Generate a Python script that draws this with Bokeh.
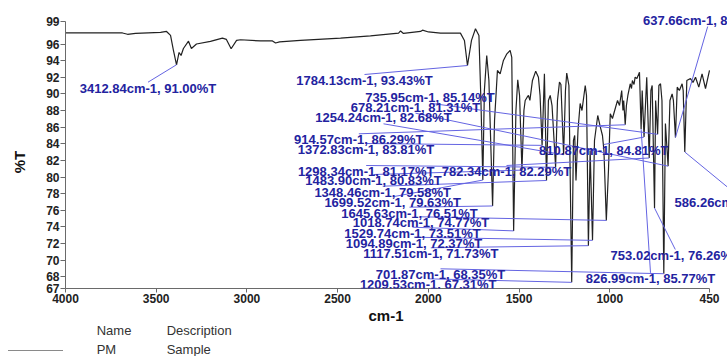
import numpy as np
from bokeh.plotting import figure
from bokeh.layouts import column, row
from bokeh.models import Range1d, FixedTicker, LabelSet, ColumnDataSource, Arrow, Div
from bokeh.core.properties import value
from bokeh.embed import file_html
from bokeh.resources import INLINE

# ---------------- data ----------------
wavenumber = [
    4000, 3807, 3686, 3658, 3614, 3476, 3443, 3421, 3405, 3388,
    3374, 3363, 3350, 3322, 3306, 3278, 3201, 3135, 3113, 3087,
    3057, 3035, 2925, 2859, 2842, 2820, 2705, 2484, 2319, 2164,
    2153, 2137, 2043, 2032, 1999, 1933, 1823, 1801, 1784.13, 1762,
    1740, 1721, 1710, 1699.52, 1691, 1678, 1666, 1645.63, 1635, 1619,
    1604, 1586, 1567, 1549, 1540, 1529.74, 1517, 1507, 1497, 1483.90,
    1473, 1466, 1456, 1448, 1440, 1426, 1408, 1393, 1384, 1372.83,
    1360, 1348.46, 1338, 1328, 1318, 1298.34, 1288, 1277, 1269, 1254.24,
    1244, 1237, 1225, 1209.53, 1200, 1193, 1186, 1175, 1163, 1153,
    1135, 1128, 1117.51, 1108, 1094.89, 1084, 1066, 1054, 1040, 1032,
    1018.74, 1007, 997, 985, 970, 957, 946, 934, 927, 923,
    914.57, 908, 900, 887, 880, 875, 866, 860, 850, 836,
    826.99, 821, 810.87, 796, 782.34, 773, 766, 753.02, 747, 735.95,
    729, 720, 712, 701.87, 693, 678.21, 668, 656, 649, 637.66,
    628, 616, 601, 595, 586.26, 575, 555, 541, 527, 509,
    491, 472, 450,
]
transmittance = [
    97.37, 97.37, 97.35, 97.19, 97.31, 97.43, 97.53, 97.05, 95.24, 93.52,
    95.00, 94.64, 95.48, 96.36, 95.48, 96.02, 96.33, 96.72, 96.57, 95.45,
    96.45, 96.53, 96.39, 96.39, 96.14, 96.27, 96.45, 96.72, 96.99, 97.33,
    97.59, 97.29, 97.53, 97.69, 97.47, 97.33, 97.33, 96.45, 93.43, 96.45,
    97.86, 97.05, 89.22, 79.63, 90.42, 94.64, 91.63, 76.51, 86.81, 92.83,
    92.43, 94.04, 94.84, 95.24, 94.40, 73.51, 88.01, 91.71, 89.82, 80.83,
    88.01, 89.22, 89.58, 89.82, 89.22, 91.63, 92.75, 92.02, 89.82, 83.81,
    92.43, 79.58, 89.22, 89.82, 88.61, 81.17, 89.22, 91.42, 91.14, 82.68,
    90.42, 92.51, 91.02, 67.31, 84.40, 85.00, 79.58, 85.60, 88.86, 88.01,
    91.02, 89.82, 71.73, 83.19, 72.37, 84.40, 87.41, 86.21, 85.00, 83.19,
    74.77, 80.78, 87.61, 87.05, 88.22, 89.22, 88.61, 90.42, 88.01, 89.22,
    86.29, 88.61, 89.82, 91.23, 90.66, 91.63, 91.14, 92.02, 91.87, 92.63,
    85.77, 90.42, 84.81, 92.02, 82.29, 90.42, 91.02, 76.26, 89.22, 85.14,
    91.02, 91.23, 89.22, 68.35, 86.45, 81.31, 89.22, 90.02, 89.22, 84.76,
    90.82, 90.42, 91.23, 90.42, 83.00, 91.63, 91.87, 91.39, 92.02, 90.82,
    92.43, 90.66, 92.83,
]

peak_wn = [3412.84, 1784.13, 735.95, 678.21, 1254.24, 914.57, 1372.83, 1298.34,
           782.34, 1483.90, 1348.46, 1699.52, 1645.63, 1018.74, 1529.74, 1094.89,
           1117.51, 701.87, 1209.53, 810.87, 637.66, 586.26, 753.02, 826.99]
peak_T = [91.00, 93.43, 85.14, 81.31, 82.68, 86.29, 83.81, 81.17,
          82.29, 80.83, 79.58, 79.63, 76.51, 74.77, 73.51, 72.37,
          71.73, 68.35, 67.31, 84.81, 84.76, 83.01, 76.26, 85.77]

x_ticks = [4000, 3500, 3000, 2500, 2000, 1500, 1000, 450]
y_ticks_inner = [68, 70, 72, 74, 76, 78, 80, 82, 84, 86, 88, 90, 92, 94, 96]
y_end_labels = ["67", "99"]
x_title = "cm-1"
y_title = "%T"

legend_header = ["Name", "Description"]
legend_row = ["PM", "Sample"]

# ---------------- layout (pixels) ----------------
W, H = 727, 356
LEFT_W = 30                       # strip that holds the y title
H_MAIN = 308                      # plot height; text strip below
FL, FR, FT, FB = 65, 709, 21, 288  # axis extents in the picture
X0, X1 = 4000, 450
Y0, Y1 = 66.57, 98.73
X_END = X1 + (X1 - X0) * (W - FR) / (FR - FL)
Y_TOP = Y1 + (Y1 - Y0) * FT / (FB - FT)

# label text centres, in pixels of the picture
label_cx = [147.5, 364, 429.5, 415, 383, 358.3, 365.5, 365.7, 506, 373, 382.2, 392.2,
            409, 420.5, 412, 413.5, 430.3, 440, 427.7, 603.3, 707.2, 738.8, 674.8, 650]
label_cy = [87.7, 80, 96.7, 106.7, 117.3, 139.3, 149, 171, 171, 180, 191.7, 202.3,
            212.7, 222.3, 232.7, 242.7, 253.3, 274.3, 284.3, 150, 20, 202.3, 255, 278.3]


def px_x(px):
    return X0 + (px - FL) * (X1 - X0) / (FR - FL)


def px_y(py):
    return Y1 - (py - FT) * (Y1 - Y0) / (FB - FT)


def y_px(y):
    return FT + (Y1 - y) * (FB - FT) / (Y1 - Y0)


FONT = "Liberation Sans"
BLUE_TXT = "#2323a0"
BLUE_LINE = "#6464e2"
AXIS_C = "#6a6a6a"

p = figure(width=W - LEFT_W, height=H_MAIN, x_range=Range1d(X0, X_END), y_range=Range1d(Y0, Y_TOP),
           output_backend="svg", toolbar_location=None,
           min_border_left=FL - LEFT_W, min_border_right=0,
           min_border_top=0, min_border_bottom=H_MAIN - FB, margin=0)
p.outline_line_color = None
p.grid.visible = False
p.background_fill_color = "white"
p.border_fill_color = "white"

# axes
p.xaxis.ticker = FixedTicker(ticks=x_ticks)
p.xaxis.bounds = (X1, X0)
p.yaxis.ticker = FixedTicker(ticks=[Y0] + y_ticks_inner + [Y1])
p.yaxis.bounds = (Y0, Y1)
p.yaxis.major_label_overrides = {Y0: y_end_labels[0], Y1: y_end_labels[1]}
for ax in (p.xaxis[0], p.yaxis[0]):
    ax.axis_line_color = AXIS_C
    ax.major_tick_line_color = AXIS_C
    ax.minor_tick_line_color = None
    ax.major_tick_in = 0
    ax.major_label_text_font = FONT
    ax.major_label_text_font_size = "12px"
    ax.major_label_text_font_style = "bold"
    ax.major_label_text_color = "#222222"
p.yaxis.major_tick_out = 5
p.yaxis.major_label_standoff = 1
p.xaxis.major_tick_out = 4
p.xaxis.major_label_standoff = 1

# spectrum
p.line(wavenumber, transmittance, line_color="#222222", line_width=1.2)

# leader lines: from the label to the marked peak
wn_arr = np.array(wavenumber, dtype=float)
t_arr = np.array(transmittance, dtype=float)
x0s, y0s, x1s, y1s = [], [], [], []
for w, t, cx, cy in zip(peak_wn, peak_T, label_cx, label_cy):
    hit = np.where(np.isclose(wn_arr, w))[0]
    if len(hit):
        ex, ey = w, t
    else:
        m = np.abs(wn_arr - w) <= 40
        k = np.argmin(np.where(m, t_arr, np.inf))
        ex, ey = wn_arr[k], t_arr[k]
    peak_py = y_px(ey)
    sy = cy + 6 if peak_py > cy + 12 else cy - 6
    x0s.append(px_x(cx)); y0s.append(px_y(sy)); x1s.append(ex); y1s.append(ey)

lead_src = ColumnDataSource(dict(x0=x0s, y0=y0s, x1=x1s, y1=y1s))
p.add_layout(Arrow(end=None, x_start="x0", y_start="y0", x_end="x1", y_end="y1",
                   source=lead_src, line_color=BLUE_LINE, line_width=1))

texts = [f"{w:.2f}cm-1, {t:.2f}%T" for w, t in zip(peak_wn, peak_T)]
lab_src = ColumnDataSource(dict(x=[px_x(c) for c in label_cx], y=[px_y(c) for c in label_cy], text=texts))
p.add_layout(LabelSet(x="x", y="y", text="text", source=lab_src,
                      text_align="center", text_baseline="middle",
                      text_font=value(FONT), text_font_size=value("13px"),
                      text_font_style="bold", text_color=BLUE_TXT))

# ---------------- texts outside the plot area (HTML strips) ----------------
def span(txt, left, top, css, center_x=False):
    tx = "-50%" if center_x else "0"
    return (f'<span style="position:absolute;left:{left}px;top:{top}px;'
            f'transform:translate({tx},-50%);white-space:nowrap;{css}">{txt}</span>')


title_css = f"font-family:'{FONT}';font-size:15px;font-weight:bold;color:#111111;line-height:15px;"
leg_css = f"font-family:'{FONT}';font-size:13px;color:#333333;line-height:13px;"

left_html = (f'<div style="position:relative;width:{LEFT_W}px;height:{H_MAIN}px;overflow:visible;">'
             f'<span style="position:absolute;left:18.5px;top:162px;'
             f'transform:translate(-50%,-50%) rotate(-90deg);white-space:nowrap;{title_css}">{y_title}</span>'
             f'</div>')
left_div = Div(text=left_html, width=LEFT_W, height=H_MAIN, margin=0)

top0 = H_MAIN
bottom_html = (f'<div style="position:relative;width:{W}px;height:{H - H_MAIN}px;overflow:visible;">'
               + span(x_title, 386, 315 - top0, title_css, center_x=True)
               + span(legend_header[0], 96.7, 330 - top0, leg_css)
               + span(legend_header[1], 166.7, 330 - top0, leg_css)
               + span(legend_row[0], 96.7, 349.3 - top0, leg_css)
               + span(legend_row[1], 166.7, 349.3 - top0, leg_css)
               + f'<div style="position:absolute;left:8px;top:{350.2 - top0}px;width:55px;height:0;'
                 f'border-top:1px solid #8a8a8a;"></div>'
               + '</div>')
bottom_div = Div(text=bottom_html, width=W, height=H - H_MAIN, margin=0)

layout = column(row(left_div, p, spacing=0, margin=0), bottom_div, spacing=0, margin=0)
open("out.html", "w").write(file_html(layout, INLINE))
